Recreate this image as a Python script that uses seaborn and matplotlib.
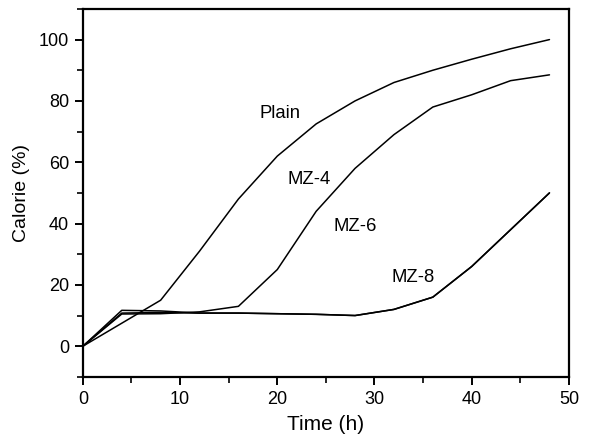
import numpy as np
import pandas as pd
import matplotlib
matplotlib.use("Agg")
import matplotlib.pyplot as plt
from matplotlib.ticker import MultipleLocator
import seaborn as sns

time_h = [0, 4, 8, 12, 16, 20, 24, 28, 32, 36, 40, 44, 48]
plain = [0, 7.5, 15, 31, 48, 62, 72.5, 80, 86, 90, 93.6, 97, 100]
mz4 = [0, 10.5, 10.6, 11.2, 13, 25, 44, 58, 69, 78, 82, 86.6, 88.5]
mz6 = [0, 10.8, 11.0, 10.8, 10.8, 10.6, 10.4, 10.0, 12, 16, 26, 38, 50]
mz8 = [0, 11.7, 11.5, 10.8, 10.8, 10.6, 10.4, 10.0, 12, 16, 26, 38, 50]

labels = ["Plain", "MZ-4", "MZ-6", "MZ-8"]
label_pos_x = [18.2, 21.0, 25.8, 31.8]
label_pos_y = [75.8, 54.3, 39.0, 22.5]

series = {"Plain": plain, "MZ-4": mz4, "MZ-6": mz6, "MZ-8": mz8}
df = pd.concat([pd.DataFrame({"Time": time_h, "Calorie": v, "Sample": k})
                for k, v in series.items()], ignore_index=True)

sns.set_style("ticks")
plt.rcParams["font.family"] = ["Liberation Sans", "DejaVu Sans"]

fig = plt.figure(figsize=(5.92, 4.46), dpi=100)
ax = fig.add_axes([0.140, 0.155, 0.821, 0.825])

sns.lineplot(data=df, x="Time", y="Calorie", units="Sample", estimator=None,
             color="black", linewidth=1.1, ax=ax, legend=False)

for t, x, y in zip(labels, label_pos_x, label_pos_y):
    ax.text(x, y, t, fontsize=13.3, ha="left", va="center", color="black")

ax.set_xlim(0, 50)
ax.xaxis.set_major_locator(MultipleLocator(10))
ax.xaxis.set_minor_locator(MultipleLocator(5))
ax.yaxis.set_major_locator(MultipleLocator(20))
ax.yaxis.set_minor_locator(MultipleLocator(10))
ax.set_yticks([0, 20, 40, 60, 80, 100])
ax.set_ylim(-10, 110)

for s in ax.spines.values():
    s.set_visible(True)
    s.set_linewidth(1.6)
    s.set_color("black")

ax.tick_params(which="major", direction="out", length=6, width=1.4, labelsize=13,
               colors="black", labelcolor="black", pad=4)
ax.tick_params(which="minor", direction="out", length=4, width=1.2, colors="black")
ax.tick_params(top=False, right=False, which="both")

ax.set_xlabel("Time (h)", fontsize=15, labelpad=5, color="black")
ax.set_ylabel("Calorie (%)", fontsize=14, labelpad=6, color="black")

fig.savefig("out.png", dpi=100)
